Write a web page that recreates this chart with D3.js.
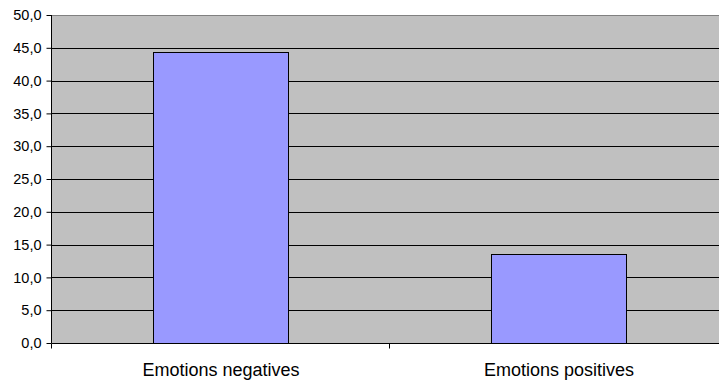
<!DOCTYPE html>
<html>
<head>
<meta charset="utf-8">
<script src="https://cdn.jsdelivr.net/npm/d3@7"></script>
<style>
  html, body { margin: 0; padding: 0; background: #fff; }
  svg { display: block; font-family: "Liberation Sans", Arial, sans-serif; }
</style>
</head>
<body>
<svg id="chart" width="719" height="381"></svg>
<script>
// Share of emotions by polarity
const categories = ["Emotions negatives", "Emotions positives"];
const values = [44.4, 13.6];
const yTicks = [0, 5, 10, 15, 20, 25, 30, 35, 40, 45, 50];

const width = 719, height = 381;
const margin = { top: 15, right: -9, bottom: 38, left: 52 };
const plotW = width - margin.left - margin.right;
const plotH = height - margin.top - margin.bottom;

const svg = d3.select("#chart");
const g = svg.append("g").attr("transform", `translate(${margin.left},${margin.top})`);

const x = d3.scaleBand().domain(categories).range([0, plotW]).paddingInner(0.6).paddingOuter(0.3);
const xEdge = d3.scaleBand().domain(categories).range([0, plotW]);
const y = d3.scaleLinear().domain([0, 50]).range([plotH, 0]);

// plot background
g.append("rect").attr("x", 0).attr("y", 0).attr("width", plotW).attr("height", plotH).attr("fill", "#C0C0C0");

// gridlines
g.selectAll("line.grid").data(yTicks.filter(d => d > 0)).join("line")
  .attr("class", "grid")
  .attr("x1", 0).attr("x2", plotW)
  .attr("y1", d => Math.round(y(d)) + 0.5).attr("y2", d => Math.round(y(d)) + 0.5)
  .attr("stroke", d => d === 50 ? "#808080" : "#000").attr("stroke-width", 1);

// bars
g.selectAll("rect.bar").data(values).join("rect")
  .attr("class", "bar")
  .attr("x", (d, i) => Math.round(x(categories[i])) + 0.5)
  .attr("width", Math.round(x.bandwidth()))
  .attr("y", d => Math.round(y(d)) + 0.5)
  .attr("height", d => plotH - Math.round(y(d)))
  .attr("fill", "#9999FF").attr("stroke", "#000").attr("stroke-width", 1);

// y axis
const yAxis = d3.axisLeft(y).tickValues(yTicks).tickSize(5).tickPadding(5)
  .tickFormat(d => d3.format(".1f")(d).replace(".", ","));
const ya = g.append("g").attr("transform", "translate(-0.5,0)").call(yAxis);
ya.select(".domain").attr("stroke", "#000").attr("d", `M-0,${plotH}V0`);
ya.selectAll(".tick line").attr("stroke", "#000");
ya.selectAll(".tick text").attr("font-size", 14.5).attr("fill", "#000")
  .attr("font-family", "Liberation Sans, Arial, sans-serif");

// x axis
const xa = g.append("g").attr("transform", `translate(0,${plotH + 0.5})`);
xa.append("line").attr("x1", -0.5).attr("x2", plotW).attr("y1", 0).attr("y2", 0).attr("stroke", "#000");
const edges = categories.map(c => xEdge(c));
xa.selectAll("line.tick").data(edges).join("line")
  .attr("class", "tick")
  .attr("x1", d => Math.round(d) - 0.5).attr("x2", d => Math.round(d) - 0.5)
  .attr("y1", 0).attr("y2", 5).attr("stroke", "#000");
xa.selectAll("text").data(categories).join("text")
  .attr("x", d => xEdge(d) + xEdge.bandwidth() / 2)
  .attr("y", 32)
  .attr("text-anchor", "middle")
  .attr("font-size", 18).attr("fill", "#000")
  .text(d => d);
</script>
</body>
</html>
